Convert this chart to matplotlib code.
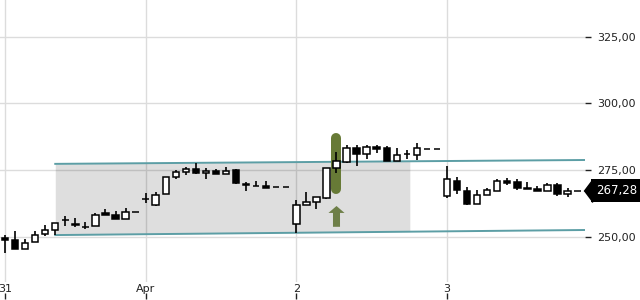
import matplotlib.pyplot as plt
import matplotlib.transforms as mtransforms
import numpy as np

# candle data (one slot per bar)
opens = [249.4, 248.8, 245.3, 247.9, 250.9, 252.5, 256.3, 254.8, 253.7, 254.0,
         258.8, 258.0, 256.5, 259.4, 264.2, 262.0, 265.9, 272.5, 274.1, 275.3,
         273.8, 274.7, 273.4, 275.0, 269.6, 268.9, 269.1, 268.5, 268.5,
         254.6, 261.8, 262.9, 264.6, 275.6, 278.1, 283.1, 280.9, 283.6, 283.1,
         278.4, 280.9, 280.6, 282.8, 282.8,
         265.3, 271.0, 267.1, 262.1, 265.6, 267.1, 270.9, 270.4, 268.2, 268.0,
         267.1, 269.4, 266.0, 267.28]
highs = [250.6, 252.1, 249.0, 252.1, 254.4, 255.0, 257.8, 256.9, 255.4, 259.0,
         260.3, 259.6, 260.6, 259.4, 266.5, 266.8, 272.5, 275.0, 276.2, 277.7,
         275.9, 275.4, 276.0, 275.4, 270.6, 270.9, 271.0, 268.5, 268.5,
         263.8, 266.9, 264.8, 275.6, 281.9, 284.5, 284.5, 284.5, 284.5, 284.0,
         283.4, 282.5, 285.2, 282.8, 282.8,
         276.5, 272.5, 268.7, 267.5, 268.4, 271.6, 271.9, 271.6, 270.4, 269.1,
         270.0, 270.2, 268.4, 267.28]
lows = [243.9, 245.3, 245.3, 247.9, 250.3, 250.6, 254.0, 253.5, 252.8, 254.0,
        258.0, 256.7, 256.5, 259.4, 262.5, 261.6, 265.9, 271.5, 273.1, 273.5,
        271.5, 273.4, 273.4, 269.6, 267.2, 268.9, 268.4, 268.5, 268.5,
        251.5, 261.8, 260.5, 264.0, 273.8, 277.7, 276.5, 279.2, 281.3, 278.5,
        278.4, 279.0, 278.7, 282.8, 282.8,
        264.4, 265.9, 261.8, 262.1, 265.6, 267.1, 269.4, 267.5, 268.0, 267.1,
        267.1, 265.3, 265.0, 267.28]
closes = [248.6, 245.3, 247.7, 250.6, 252.4, 255.0, 256.3, 254.2, 253.7, 258.1,
          258.0, 256.7, 259.1, 259.4, 264.2, 265.7, 272.5, 274.1, 275.3, 273.8,
          274.6, 273.4, 274.5, 270.0, 269.2, 268.9, 268.4, 268.5, 268.5,
          261.8, 262.9, 264.8, 275.6, 278.3, 283.1, 280.9, 283.5, 282.9, 278.5,
          280.5, 280.9, 283.1, 282.8, 282.8,
          271.5, 267.5, 262.1, 265.6, 267.5, 270.9, 270.0, 268.3, 268.0, 267.1,
          269.4, 265.9, 267.2, 267.28]

day_slots = [0, 14, 29, 44]
day_labels = ['31', 'Apr', '2', '3']
y_ticks = [250, 275, 300, 325]
last_price = 267.28

# trend channel (slot, value)
channel_x = [5, 57.74]
channel_upper = [277.3, 278.75]
channel_lower = [250.6, 252.5]
box_end = 40.3

# breakout signal
signal_slot = 33
signal_range = [266.0, 289.0]
arrow_range = [253.7, 261.5]

fig = plt.figure(figsize=(6.4, 3), dpi=100)
ax = fig.add_axes([0, 18 / 300, 585 / 640, 282 / 300])

x = np.arange(len(opens))
o = np.array(opens)
c = np.array(closes)

# shaded box between channel lines
bx = np.array([channel_x[0], box_end])
ax.fill_between(bx, np.interp(bx, channel_x, channel_lower),
                np.interp(bx, channel_x, channel_upper),
                color='black', alpha=0.13, lw=0, zorder=1)
ax.plot(channel_x, channel_upper, color='#5c9ea5', lw=1.4, zorder=2)
ax.plot(channel_x, channel_lower, color='#5c9ea5', lw=1.4, zorder=2)

# signal bar and arrow
ax.plot([signal_slot, signal_slot], [signal_range[0] + 1.9, signal_range[1] - 1.9],
        color='#677a36', lw=7.2, solid_capstyle='round', zorder=3)
ax.arrow(signal_slot, arrow_range[0], 0, arrow_range[1] - arrow_range[0],
         width=0.7, head_width=1.6, head_length=2.6, length_includes_head=True,
         color='#6e7f48', lw=0, zorder=3)

# candles
ax.vlines(x, lows, highs, color='black', lw=1.2, zorder=4)
up = c >= o
ax.bar(x, np.abs(c - o), bottom=np.minimum(o, c), width=0.64,
       color=np.where(up, 'white', 'black'), edgecolor='black', lw=1.1, zorder=5)

ax.set_xlim(-0.5, 57.74)
ax.set_ylim(233.0, 338.75)

ax.set_xticks(day_slots, day_labels)
ax.set_yticks(y_ticks, ['{:.2f}'.format(v).replace('.', ',') for v in y_ticks])
ax.yaxis.tick_right()
ax.tick_params(axis='x', length=0, pad=1.5, labelsize=8, labelcolor='#222222')
ax.tick_params(axis='y', length=4, width=1, pad=5, labelsize=8,
               color='#222222', labelcolor='#222222')
ax.grid(True, color='#dcdcdc', lw=1)
ax.set_axisbelow(True)
for s in ax.spines.values():
    s.set_visible(False)

sec = ax.secondary_xaxis(-0.04)
sec.set_xticks(day_slots)
sec.tick_params(length=4, width=1, labelbottom=False, color='#222222')
sec.spines['bottom'].set_visible(False)

# last price tag
trans = mtransforms.blended_transform_factory(ax.transAxes, ax.transData)
ax.text(1.0195, last_price, '267,28', transform=trans, ha='left', va='center',
        color='white', fontsize=8.5,
        bbox=dict(boxstyle='square,pad=0.45', fc='black', ec='black', lw=0))
ax.plot([1.0125], [last_price], transform=trans, clip_on=False, color='black',
        marker=[(-0.75, 0), (0, 1), (0, -1)], markersize=16, lw=0)

fig.savefig('out.png', dpi=100)
